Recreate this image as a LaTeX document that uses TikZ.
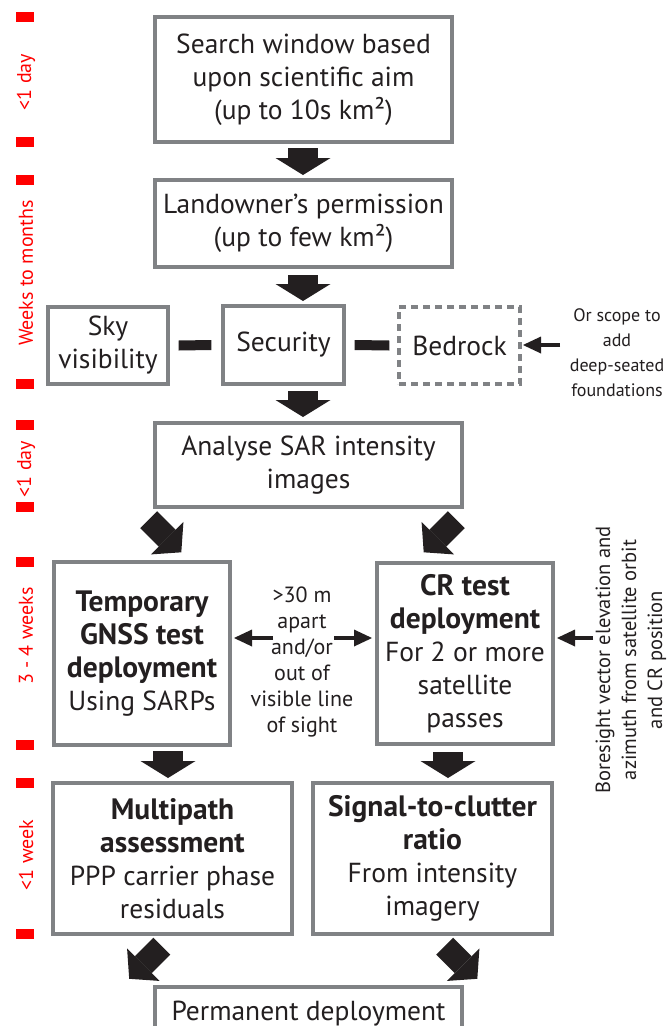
\documentclass[tikz,border=0pt]{standalone}
\usepackage{fontspec}
\setmainfont{PT Sans}
\usetikzlibrary{arrows.meta}
\definecolor{boxgray}{RGB}{128,130,133}
\definecolor{ink}{RGB}{35,31,32}
\definecolor{tred}{RGB}{255,0,0}
\newcommand\bxfont{\fontsize{27.5}{33}\selectfont}
\newcommand\bt[1]{{\fontsize{29.5}{33}\selectfont\bfseries #1}}
\newcommand\smfont{\fontsize{22}{26}\selectfont}
\newcommand\sidefont{\fontsize{18}{25}\selectfont}
\newcommand\borefont{\fontsize{20.5}{26}\selectfont}
\newcommand\redfont{\fontsize{20}{24}\selectfont}
\begin{document}
\begin{tikzpicture}[x=1pt,y=-1pt,
  box/.style={draw=boxgray, line width=3.2pt, fill=white, inner sep=0pt, align=center, text=ink, font=\bxfont},
  dbox/.style={box, dash pattern=on 7pt off 5pt},
  bigarrow/.style={draw=ink, line width=30pt, -{Triangle[width=55pt,length=17pt,line width=0pt]}},
  diagarrow/.style={draw=ink, line width=24pt, -{Triangle[width=46pt,length=20pt,line width=0pt]}},
  smallarrow/.style={draw=ink, line width=4.5pt, -{Triangle[width=17pt,length=18pt,line width=0pt]}},
  bar/.style={draw=ink, line width=10pt},
  note/.style={align=center, text=ink, inner sep=0pt},
  redtxt/.style={text=tred, font=\redfont, rotate=90, inner sep=0pt},
  redmark/.style={fill=tred}
]
\useasboundingbox (0,0) rectangle (668,1026);
\clip (0,0) rectangle (668,1026);
\fill[white] (0,0) rectangle (668,1026);

% timeline
\foreach \yy in {17,142,180,384,425,507,562,745,783,934}
  \fill[redmark] (16,\yy-5) rectangle (34,\yy+5);
\node[redtxt] (t1) at (26,82) {<1 day};
\node[redtxt] (t2) at (26,273) {Weeks to months};
\node[redtxt] (t3) at (26,469) {<1 day};
\node[redtxt] (t4) at (26,636) {3 - 4 weeks};
\node[redtxt] (t5) at (26,855) {<1 week};

% boxes
\node[box, minimum width=297pt, minimum height=125pt] (b1) at (303.5,79.5)
  {Search window based\\upon scientific aim\\(up to 10s km²)};
\node[box, minimum width=297pt, minimum height=87pt] (b2) at (303.5,223.5)
  {Landowner’s permission\\(up to few km²)};
\node[box, minimum width=120pt, minimum height=77pt] (sky) at (108,345.5)
  {Sky\\visibility};
\node[box, minimum width=121pt, minimum height=78pt] (sec) at (283.5,345)
  {Security};
\node[dbox, minimum width=121pt, minimum height=77pt] (bed) at (459.5,345.5)
  {Bedrock};
\node[box, minimum width=307pt, minimum height=84pt] (ana) at (308.5,465)
  {Analyse SAR intensity\\images};
\node[box, minimum width=176pt, minimum height=183pt] (tmp) at (142,653.5)
  {\bt{Temporary}\\\bt{GNSS test}\\\bt{deployment}\\Using SARPs};
\node[box, minimum width=176pt, minimum height=181pt] (cr) at (465,653.5)
  {\bt{CR test}\\\bt{deployment}\\For 2 or more\\satellite\\passes};
\node[box, minimum width=239pt, minimum height=151pt] (mp) at (172.5,858.5)
  {\bt{Multipath}\\\bt{assessment}\\PPP carrier phase\\residuals};
\node[box, minimum width=239pt, minimum height=151pt] (sig) at (432.5,858.5)
  {\bt{Signal-to-clutter}\\\bt{ratio}\\From intensity\\imagery};
\node[box, minimum width=307pt, minimum height=58pt] (perm) at (308.5,1016)
  {\raisebox{11pt}{Permanent deployment}};

% side notes
\node[note, font=\smfont] (mid) at (302,662)
  {>30 m\\apart\\and/or\\out of\\visible line\\of sight};
\node[note, font=\sidefont] (scope) at (617,353)
  {Or scope to\\add\\deep-seated\\foundations};
\node[note, font=\borefont, rotate=90] (bore) at (631,660)
  {Boresight vector elevation and\\azimuth from satellite orbit\\and CR position};

% vertical block arrows
\coordinate (a1s) at (303,148); \coordinate (a1e) at (303,175);
\coordinate (a2s) at (303,275); \coordinate (a2e) at (303,301);
\coordinate (a3s) at (303,391); \coordinate (a3e) at (303,417);
\coordinate (a4s) at (168,751); \coordinate (a4e) at (168,778);
\coordinate (a5s) at (448,752); \coordinate (a5e) at (448,778);
\draw[bigarrow] (a1s) -- (a1e);
\draw[bigarrow] (a2s) -- (a2e);
\draw[bigarrow] (a3s) -- (a3e);
\draw[bigarrow] (a4s) -- (a4e);
\draw[bigarrow] (a5s) -- (a5e);

% diagonal block arrows
\coordinate (d1s) at (148.7,519.7); \coordinate (d1e) at (181.3,552.3);
\coordinate (d2s) at (456.3,519.7); \coordinate (d2e) at (423.7,552.3);
\coordinate (d3s) at (161.8,946.2); \coordinate (d3e) at (129.2,978.8);
\coordinate (d4s) at (444.7,946.2); \coordinate (d4e) at (477.3,978.8);
\draw[diagarrow] (d1s) -- (d1e);
\draw[diagarrow] (d2s) -- (d2e);
\draw[diagarrow] (d3s) -- (d3e);
\draw[diagarrow] (d4s) -- (d4e);

% bars between row-3 boxes
\draw[bar] ([xshift=9pt]sky.east) -- ([xshift=-10pt]sec.west);
\draw[bar] ([xshift=9pt]sec.east) -- ([xshift=-8pt]bed.west);

% small arrows
\coordinate (bs) at (560,345); \coordinate (be) at (523,345);
\draw[smallarrow] (bs) -- (be);
\coordinate (mls) at (273,638); \coordinate (mle) at (234,638);
\draw[smallarrow] (mls) -- (mle);
\coordinate (mrs) at (334,638); \coordinate (mre) at (372,638);
\draw[smallarrow] (mrs) -- (mre);
\coordinate (crs) at (593,638); \coordinate (cre) at (557,638);
\draw[smallarrow] (crs) -- (cre);
\end{tikzpicture}
\end{document}
